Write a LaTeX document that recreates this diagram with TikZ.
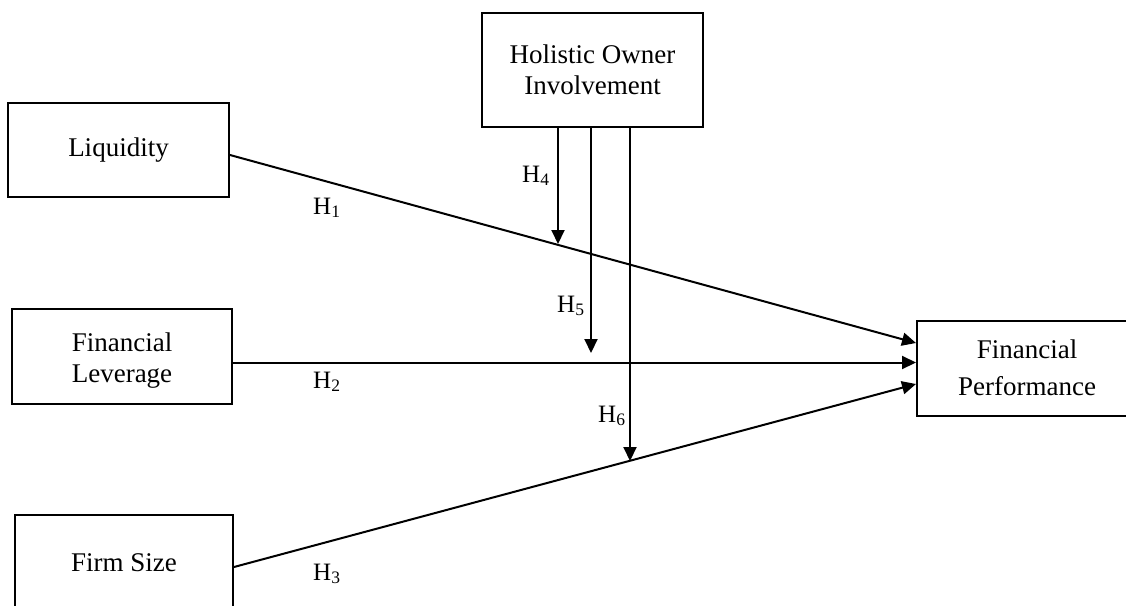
\documentclass[tikz,border=0pt]{standalone}
\usepackage{fontspec}
\setmainfont{Liberation Serif}
\usetikzlibrary{arrows.meta,calc}
\begin{document}
\begin{tikzpicture}[x=1pt,y=-1pt,
  box/.style={draw=black,line width=2pt,rectangle,inner sep=0pt},
  boxtext/.style={inner sep=0pt,align=center,font=\fontsize{27}{31}\selectfont},
  conn/.style={line width=2pt,draw=black},
  arr/.style={conn,-{Triangle[length=14pt,width=13pt]}},
  hlab/.style={font=\fontsize{25}{28}\selectfont,inner sep=0pt,anchor=base west}]
\useasboundingbox (0,0) rectangle (1126,605);
\fill[white] (0,0) rectangle (1126,605);
\clip (0,0) rectangle (1126,605);
\node[box,minimum width=221pt,minimum height=94pt] (L) at (118.5,150) {};
\node[boxtext] (Lt) at (L) {Liquidity};
\node[box,minimum width=220pt,minimum height=95pt] (FL) at (122,356.5) {};
\node[boxtext] (FLt) at ($(FL)+(0,4)$) {Financial\\Leverage};
\node[box,minimum width=218pt,minimum height=95pt] (FS) at (124,562.5) {};
\node[boxtext] (FSt) at (FS) {Firm Size};
\node[box,minimum width=221pt,minimum height=114pt] (HOI) at (592.5,70) {};
\node[boxtext] (HOIt) at (HOI) {Holistic Owner\\Involvement};
\node[box,minimum width=220pt,minimum height=95pt] (FP) at (1027,368.5) {};
\node[boxtext] (FPt) at ($(FP)+(0,-1)$) {Financial\\[6pt]Performance};
% main paths
\coordinate (ls) at ($(L.east)+(0,5)$);
\coordinate (le) at ($(FP.west)+(0,-25.5)$);
\coordinate (fs) at ($(FL.east)+(0,6)$);
\coordinate (fse) at ($(FS.east)+(0,4.5)$);
\coordinate (fpe) at ($(FP.west)+(0,15.5)$);
\draw[arr] (ls) -- (le);
\draw[arr] (fs) -- (fs -| FP.west);
\draw[arr] (fse) -- (fpe);
% moderation arrows
\coordinate (h4) at (558,244);
\coordinate (h5) at (591,353);
\coordinate (h6) at (630,461);
\draw[arr] (h4 |- HOI.south) -- (h4);
\draw[arr] (h5 |- HOI.south) -- (h5);
\draw[arr] (h6 |- HOI.south) -- (h6);
% labels
\node[hlab] (l1) at (313,214) {H\textsubscript{1}};
\node[hlab] (l2) at (313,388) {H\textsubscript{2}};
\node[hlab] (l3) at (313,580) {H\textsubscript{3}};
\node[hlab] (l4) at (522,182) {H\textsubscript{4}};
\node[hlab] (l5) at (557,312) {H\textsubscript{5}};
\node[hlab] (l6) at (598,422) {H\textsubscript{6}};
\end{tikzpicture}
\end{document}
